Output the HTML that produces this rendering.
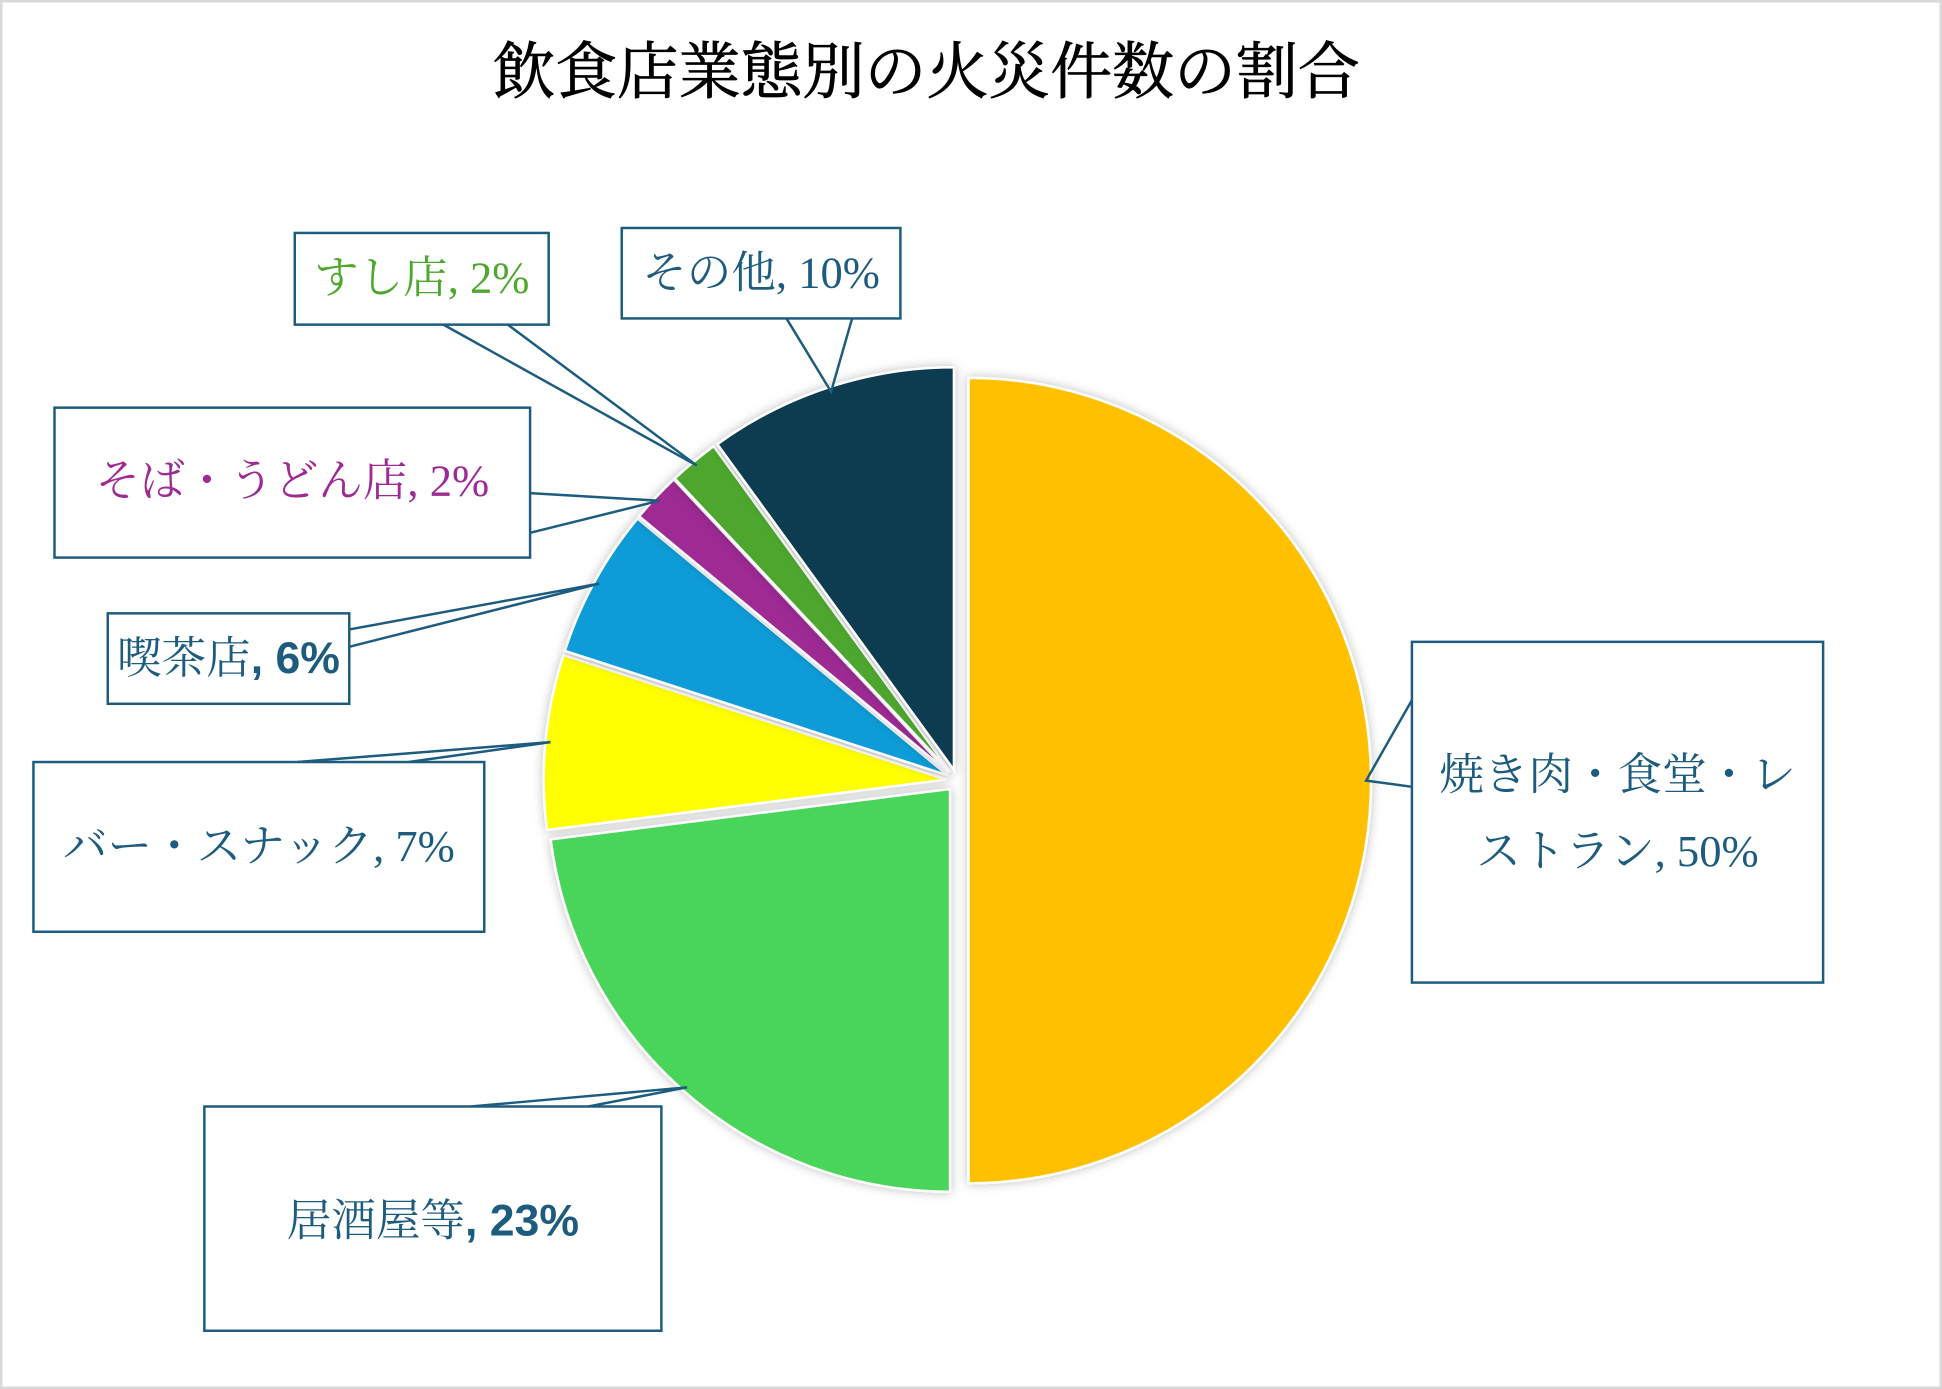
<!DOCTYPE html>
<html><head><meta charset="utf-8"><style>
html,body{margin:0;padding:0;background:#fff;}
svg{display:block;}
text{font-family:"Liberation Serif","Noto Serif CJK JP",serif;}
</style></head><body>
<svg width="1942" height="1389" viewBox="0 0 1568 1121" preserveAspectRatio="none">
<defs><filter id="sh" x="-10%" y="-10%" width="120%" height="120%"><feDropShadow dx="0" dy="0" stdDeviation="4" flood-color="#000" flood-opacity="0.25"/></filter></defs>
<rect x="1" y="1" width="1566" height="1119" fill="#fff" stroke="#d9d9d9" stroke-width="2"/>
<text x="748" y="75" text-anchor="middle" font-size="50" fill="#000" stroke="#000" stroke-width="0.6">飲食店業態別の火災件数の割合</text>
<g id="slices"></g>
<g id="labels"></g>
<script>
const categories=["焼き肉・食堂・レストラン","居酒屋等","バー・スナック","喫茶店","そば・うどん店","すし店","その他"];
const values=[50,23,7,6,2,2,10];
const sliceColors=["#FFC000","#48D45A","#FFFF00","#109CD8","#9E2A94","#4EA72E","#0E3A4F"];
const textColors=["#1D5C7E","#1D5C7E","#1D5C7E","#1D5C7E","#9E2A94","#4EA72E","#1D5C7E"];
const ns="http://www.w3.org/2000/svg";
const cx=773,cy=630,R=325,ex=9;
const total=values.reduce((a,b)=>a+b,0);
function pt(a,r,ox,oy){return [ox+r*Math.sin(a),oy-r*Math.cos(a)];}
const sg=document.getElementById('slices'),lg=document.getElementById('labels');
const boxes=[
 {x:1140,y:518,w:332,h:275,lines:["焼き肉・食堂・レ","ストラン, 50%"],ty:[637,699],b:[[1140,565],[1140,635]],bold:false},
 {x:165,y:893,w:369,h:181,lines:["居酒屋等, 23%"],ty:[997],b:[[380,893],[475,893]],bold:true},
 {x:27,y:615,w:364,h:137,lines:["バー・スナック, 7%"],ty:[695],b:[[240,615],[330,615]],bold:false},
 {x:87,y:495,w:195,h:73,lines:["喫茶店, 6%"],ty:[543],b:[[282,508],[282,522]],bold:true},
 {x:44,y:329,w:384,h:121,lines:["そば・うどん店, 2%"],ty:[400],b:[[428,398],[428,430]],bold:false},
 {x:238,y:188,w:205,h:74,lines:["すし店, 2%"],ty:[236],b:[[358,262],[410,262]],bold:false},
 {x:502,y:184,w:225,h:73,lines:["その他, 10%"],ty:[232],b:[[635,257],[688,257]],bold:false}
];
let acc=0;
values.forEach((v,i)=>{
  const a0=acc/total*2*Math.PI; acc+=v; const a1=acc/total*2*Math.PI;
  const am=(a0+a1)/2;
  const ox=cx+ex*Math.sin(am),oy=cy-ex*Math.cos(am);
  const p0=pt(a0,R,ox,oy),p1=pt(a1,R,ox,oy);
  const large=(a1-a0)>Math.PI?1:0;
  const p=document.createElementNS(ns,'path');
  p.setAttribute('d',`M${ox},${oy}L${p0[0]},${p0[1]}A${R},${R} 0 ${large} 1 ${p1[0]},${p1[1]}Z`);
  p.setAttribute('fill',sliceColors[i]);
  p.setAttribute('stroke','#fff');p.setAttribute('stroke-width','2');
  p.setAttribute('filter','url(#sh)');
  
  
  sg.appendChild(p);
  const b=boxes[i];
  const an=pt(am,R-4,ox,oy);
  const w=document.createElementNS(ns,'polyline');
  w.setAttribute('points',`${b.b[0][0]},${b.b[0][1]} ${an[0]},${an[1]} ${b.b[1][0]},${b.b[1][1]}`);
  w.setAttribute('fill','none');w.setAttribute('stroke','#1D5C7E');w.setAttribute('stroke-width','2');
  
  
  lg.appendChild(w);
  const r=document.createElementNS(ns,'rect');
  r.setAttribute('x',b.x);r.setAttribute('y',b.y);r.setAttribute('width',b.w);r.setAttribute('height',b.h);
  r.setAttribute('fill','#fff');r.setAttribute('stroke','#1D5C7E');r.setAttribute('stroke-width','2');
  
  
  lg.appendChild(r);
  b.lines.forEach((ln,j)=>{
    const t=document.createElementNS(ns,'text');
    t.setAttribute('x',b.x+b.w/2);t.setAttribute('y',b.ty[j]);
    t.setAttribute('text-anchor','middle');t.setAttribute('font-size','36');
    t.setAttribute('fill',textColors[i]);
    if(b.bold){
      const parts=ln.split(',');
      const s1=document.createElementNS(ns,'tspan');s1.textContent=parts[0];
      const s2=document.createElementNS(ns,'tspan');s2.textContent=','+parts[1];
      s2.setAttribute('font-weight','bold');
      s2.setAttribute('font-family','"Liberation Sans",sans-serif');
      t.appendChild(s1);t.appendChild(s2);
    } else t.textContent=ln;
    
    
    lg.appendChild(t);
  });
});
</script>
</svg>
</body></html>
